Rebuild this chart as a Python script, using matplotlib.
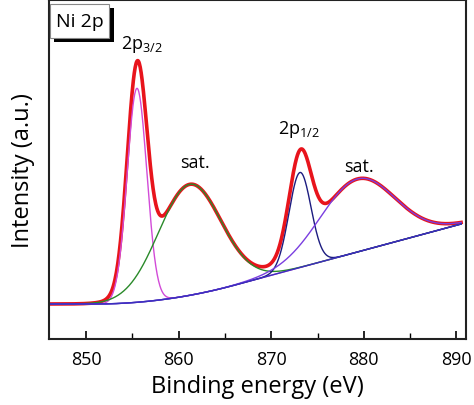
import numpy as np
import matplotlib
matplotlib.use("Agg")
import matplotlib.pyplot as plt
from matplotlib.patches import Rectangle

plt.rcParams['font.family'] = ['Open Sans', 'DejaVu Sans']

# fitted components: centre (eV), height (a.u.), FWHM (eV)
peak_names = ['2p3/2', 'sat1', '2p1/2', 'sat2']
centres = [855.5, 861.2, 873.1, 879.3]
heights = [214, 111, 95, 73]
fwhms = [2.5, 8.0, 2.8, 9.5]
colors = ['#d24bd8', '#2a8a2a', '#1c1c80', '#7a3ee0']

# background (a.u.): flat level, onset, curvature, linear slope
bg_level = 35
bg_onset = 851.0
bg_knee = 866.0
bg_slope = 2.5

x_ticks = [850, 860, 870, 880, 890]
labels = ['$\\mathregular{2p_{3/2}}$', 'sat.', '$\\mathregular{2p_{1/2}}$', 'sat.']
label_x = [856.0, 861.8, 873.0, 879.5]
label_y = [285, 168, 200, 164]

be = np.linspace(846, 890.5, 900)


def background(x):
    a = bg_slope / (2 * (bg_knee - bg_onset))
    d = np.clip(x - bg_onset, 0, None)
    curved = bg_level + a * d ** 2
    lin = bg_level + a * (bg_knee - bg_onset) ** 2 + bg_slope * (x - bg_knee)
    return np.where(x < bg_knee, curved, lin)


def gauss(x, c, h, w):
    return h * np.exp(-4 * np.log(2) * (x - c) ** 2 / w ** 2)


bg = background(be)
comps = [gauss(be, c, h, w) for c, h, w in zip(centres, heights, fwhms)]
envelope = bg + sum(comps)

fig = plt.figure(figsize=(4.74, 4.06), dpi=100)
ax = fig.add_axes([0.1034, 0.1626, 0.8791, 0.8349])

ax.plot(be, envelope, color='black', lw=0.8)
ax.plot(be, envelope, color='#e8141c', lw=2.6)
for comp, col in zip(comps, colors):
    ax.plot(be, bg + comp, color=col, lw=1.0)
ax.plot(be, bg, color='#3b2fc0', lw=1.0)

for t, lx, ly in zip(labels, label_x, label_y):
    ax.text(lx, ly, t, fontsize=13, ha='center', va='bottom')

# "Ni 2p" box with shadow
ax.add_patch(Rectangle((0.013, 0.876), 0.142, 0.10, transform=ax.transAxes,
                       facecolor='black', edgecolor='none', zorder=4))
ax.add_patch(Rectangle((0.003, 0.888), 0.141, 0.10, transform=ax.transAxes,
                       facecolor='white', edgecolor='#888888', lw=0.8, zorder=5))
ax.text(0.073, 0.938, 'Ni 2p', transform=ax.transAxes, fontsize=14,
        ha='center', va='center', zorder=6)

ax.set_xlim(846, 891)
ax.set_ylim(0, 339)
ax.set_xticks(x_ticks)
ax.set_xticks([855, 865, 875, 885], minor=True)
ax.set_yticks([])
ax.tick_params(axis='x', direction='in', length=6, width=1.2, labelsize=13, pad=8)
ax.tick_params(axis='x', which='minor', direction='in', length=4, width=1.0)
for s in ax.spines.values():
    s.set_linewidth(1.5)
    s.set_color('#222222')

ax.set_xlabel('Binding energy (eV)', fontsize=17, labelpad=4)
ax.set_ylabel('Intensity (a.u.)', fontsize=17, labelpad=10)

fig.savefig('out.png', dpi=100)
